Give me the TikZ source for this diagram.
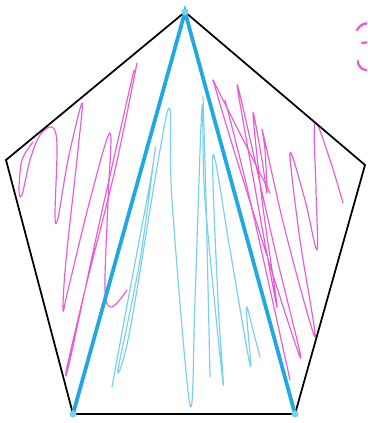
\documentclass[tikz,border=0pt]{standalone}
\usepackage{xcolor}
\usepackage{tikz}
\definecolor{edgeblue}{RGB}{32, 168, 228}
\definecolor{shadeblue}{RGB}{120, 208, 236}
\definecolor{shadepink}{RGB}{232, 92, 214}

\begin{document}
\begin{tikzpicture}[
    x=0.3mm, y=-0.3mm,
    outline/.style={draw=black, line width=1.5pt, line join=miter},
    sideline/.style={draw=edgeblue, line width=3.2pt, line cap=round},
    pinkpen/.style={draw=shadepink, line width=1pt, line cap=round, line join=round},
    bluepen/.style={draw=shadeblue, line width=1pt, line cap=round, line join=round},
    dot/.style={circle, fill=shadeblue, inner sep=0pt, minimum size=6pt}
]
    \useasboundingbox (0,0) rectangle (367,423);
    \clip (0,0) rectangle (367,423);

    % pentagon corners
    \coordinate (top) at (185,12);
    \coordinate (right) at (365,165);
    \coordinate (botright) at (295,414);
    \coordinate (botleft) at (73,414);
    \coordinate (left) at (6,160);

    % shading on the left
    \draw[pinkpen] plot[smooth, tension=0.55] coordinates {
        (33,142) (22,160) (19,190) (22,195) (30,160) (40,135) (52,127) (57,145)
        (55,215) (58,218) (68,160) (82,103) (78,150) (66,260) (63,310) (68,290)
        (90,200) (110,133) (108,200) (105,290) (112,307) (127,290)};
    \draw[pinkpen] plot[smooth, tension=0.55] coordinates {
        (137,63) (115,170) (85,290) (67,367) (70,360) (100,220) (134,70)};

    % shading on the right
    \draw[pinkpen] plot[smooth, tension=0.55] coordinates {
        (213,80) (240,170) (300,357) (275,250) (238,87) (250,160) (277,307)
        (262,200) (253,113) (262,160) (267,193) (265,150) (263,133) (285,230)
        (315,337) (300,240) (290,153) (305,200) (317,250) (316,190) (315,123)
        (330,160) (343,203)};
    \draw[pinkpen] (213,80) -- (270,193);
    \draw[pinkpen] plot[smooth, tension=0.55] coordinates {
        (225,100) (250,200) (290,380)};

    % shading in the triangle
    \draw[bluepen] plot[smooth, tension=0.55] coordinates {
        (112,387) (128,300) (150,183) (155,150) (140,260) (118,370) (130,330)
        (160,150) (170,110) (172,200) (190,405) (195,300) (202,107) (205,200)
        (223,383) (218,300) (213,155) (230,250) (250,365) (247,320) (247,307)
        (253,330) (260,357)};
    \draw[bluepen] plot[smooth, tension=0.55] coordinates {
        (203,97) (206,200) (210,377)};

    % number in the corner
    \draw[shadepink, line width=2pt, line cap=round]
        (357,30) .. controls (360,25) and (365,22) .. (370,24);
    \draw[shadepink, line width=2pt, line cap=round]
        (362,43) -- (370,42);
    \draw[shadepink, line width=2pt, line cap=round]
        (358,61) .. controls (358,68) and (364,71) .. (370,70);

    \draw[outline] (top) -- (right) -- (botright) -- (botleft) -- (left) -- cycle;
    \draw[sideline] (botleft) -- (top) -- (botright);

    \node[dot] (dtop) at (top) {};
    \node[dot] (dleft) at (botleft) {};
    \node[dot] (dright) at (botright) {};
\end{tikzpicture}
\end{document}
